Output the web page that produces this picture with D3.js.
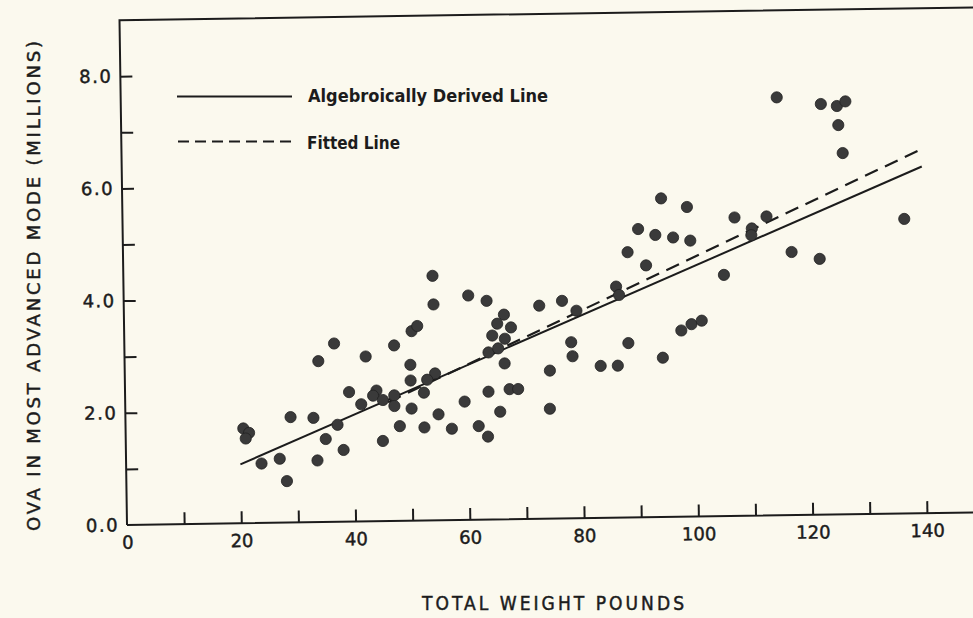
<!DOCTYPE html>
<html>
<head>
<meta charset="utf-8">
<script src="https://cdn.jsdelivr.net/npm/d3@7"></script>
<style>
  html, body { margin: 0; padding: 0; background: #fbf9ee; }
  svg { display: block; }
</style>
</head>
<body>
<div id="chart"></div>
<script>
// total weight (pounds) of each point
const weight = [
  54.1, 54.2, 50.3, 51.3, 36.7, 47.2, 33.9, 42.2, 50.0, 50.0, 54.3, 52.9, 39.2,
  44.0, 43.4, 45.1, 47.1, 52.3, 41.3, 47.1, 50.1, 54.8, 28.9, 32.9, 37.1, 20.6,
  21.6, 21.0, 48.0, 52.3, 57.1, 35.0, 45.0, 38.1, 23.7, 26.9, 33.5, 28.1,
  88.3, 91.5, 60.3, 63.5, 72.7, 76.7, 66.5, 65.3, 67.7, 64.4, 66.6, 79.2, 86.2,
  86.7, 63.7, 65.4, 66.5, 78.2, 78.4, 88.2, 97.5, 99.3, 101.1, 83.3, 86.3, 94.2,
  74.4, 63.6, 67.3, 68.8, 59.4, 65.6, 74.3, 61.8, 63.4,
  114.8, 122.5, 125.3, 126.8, 125.5, 126.2, 98.8, 99.3, 107.1, 112.7, 110.1,
  110.0, 136.8, 117.0, 121.9, 105.1, 94.3, 90.2, 93.2, 96.3
];
// ova in most advanced mode (millions)
const ova = [
  4.36, 3.85, 3.38, 3.47, 3.18, 3.13, 2.87, 2.94, 2.78, 2.50, 2.62, 2.51, 2.31,
  2.33, 2.24, 2.16, 2.24, 2.28, 2.09, 2.05, 2.00, 1.89, 1.88, 1.86, 1.73, 1.69,
  1.61, 1.51, 1.69, 1.66, 1.63, 1.48, 1.43, 1.28, 1.06, 1.14, 1.10, 0.74,
  4.73, 4.49, 4.00, 3.90, 3.80, 3.88, 3.65, 3.49, 3.42, 3.28, 3.22, 3.70, 4.12,
  3.97, 2.98, 3.05, 2.78, 3.14, 2.89, 3.11, 3.32, 3.43, 3.49, 2.71, 2.71, 2.84,
  2.64, 2.28, 2.32, 2.32, 2.11, 1.92, 1.96, 1.67, 1.48,
  7.45, 7.32, 7.28, 7.36, 6.94, 6.44, 5.52, 4.92, 5.32, 5.33, 5.12,
  5.00, 5.25, 4.69, 4.56, 4.30, 5.68, 5.14, 5.03, 4.98
];

const algebraicX = [20, 140];
const algebraicY = [1.05, 6.18];
const fittedX = [46, 140];
const fittedY = [2.12, 6.49];

const xTicks = d3.range(10, 150, 10);
const xTickLabels = [0, 20, 40, 60, 80, 100, 120, 140];
const yTicks = [1, 2, 3, 4, 5, 6, 7, 8];
const yTickLabels = [0, 2, 4, 6, 8];

const width = 973;
const height = 618;
const ink = "#1c1c1c";

const x = d3.scaleLinear().domain([0, 140]).range([127, 927]);
const y = d3.scaleLinear().domain([0, 9]).range([525, 20.1]);

const svg = d3.select("#chart")
    .append("svg")
    .attr("width", width)
    .attr("height", height);

svg.append("rect")
    .attr("width", width)
    .attr("height", height)
    .attr("fill", "#fbf9ee");

// the scanned figure sits slightly askew
const plot = svg.append("g")
    .attr("transform", "rotate(-0.85,127,525)");

// frame: left axis, top line, bottom axis
plot.append("path")
    .attr("d", `M${x(0)},${y(0)}V${y(9)}H${x(155)}M${x(0)},${y(0)}H${x(155)}`)
    .attr("fill", "none")
    .attr("stroke", ink)
    .attr("stroke-width", 2);

// scanned type is heavier than a plain screen font, so give it a thin outline
function inkText(sel) {
    sel.attr("fill", ink)
        .attr("stroke", ink)
        .attr("stroke-width", 0.45);
}

function styleAxis(g, spacing) {
    g.select(".domain").remove();
    g.selectAll("line").attr("stroke", ink).attr("stroke-width", 2);
    g.selectAll("text")
        .call(inkText)
        .style("font-family", "'DejaVu Sans', sans-serif")
        .style("font-size", "18px")
        .style("letter-spacing", spacing || "0px");
}

plot.append("g")
    .attr("transform", `translate(0,${y(0)})`)
    .call(d3.axisBottom(x).tickValues(xTicks).tickSize(-12).tickFormat(""))
    .call(styleAxis);

plot.append("g")
    .attr("transform", `translate(0,${y(0)})`)
    .call(d3.axisBottom(x).tickValues(xTickLabels).tickSize(0).tickPadding(11))
    .call(styleAxis);

plot.append("g")
    .attr("transform", `translate(${x(0)},0)`)
    .call(d3.axisLeft(y).tickValues(yTicks).tickSize(-12).tickFormat(""))
    .call(styleAxis);

plot.append("g")
    .attr("transform", `translate(${x(0)},0)`)
    .call(d3.axisLeft(y).tickValues(yTickLabels).tickSize(0).tickPadding(8).tickFormat(d3.format(".1f")))
    .call(styleAxis, "1.5px");

const line = d3.line().x(d => x(d[0])).y(d => y(d[1]));

plot.append("path")
    .attr("d", line(d3.zip(algebraicX, algebraicY)))
    .attr("fill", "none")
    .attr("stroke", ink)
    .attr("stroke-width", 2);

plot.append("path")
    .attr("d", line(d3.zip(fittedX, fittedY)))
    .attr("fill", "none")
    .attr("stroke", ink)
    .attr("stroke-width", 2.2)
    .attr("stroke-dasharray", "14,8");

plot.append("g")
    .selectAll("circle")
    .data(d3.range(weight.length))
    .join("circle")
    .attr("cx", i => x(weight[i]))
    .attr("cy", i => y(ova[i]))
    .attr("r", 5.6)
    .attr("fill", "#3a3a3a")
    .attr("stroke", "#222")
    .attr("stroke-width", 0.8);

// legend
svg.append("line")
    .attr("x1", 177).attr("x2", 292)
    .attr("y1", 96.5).attr("y2", 96.5)
    .attr("stroke", ink).attr("stroke-width", 2);

svg.append("line")
    .attr("x1", 178).attr("x2", 293)
    .attr("y1", 141.5).attr("y2", 141.5)
    .attr("stroke", ink).attr("stroke-width", 2)
    .attr("stroke-dasharray", "11,6");

svg.append("text")
    .attr("x", 308).attr("y", 101.5)
    .attr("textLength", 240)
    .attr("lengthAdjust", "spacingAndGlyphs")
    .style("font-family", "'DejaVu Sans', sans-serif")
    .style("font-weight", "bold")
    .style("font-size", "17px")
    .attr("fill", ink)
    .text("Algebroically Derived Line");

svg.append("text")
    .attr("x", 307).attr("y", 148.5)
    .attr("textLength", 93)
    .attr("lengthAdjust", "spacingAndGlyphs")
    .style("font-family", "'DejaVu Sans', sans-serif")
    .style("font-weight", "bold")
    .style("font-size", "17px")
    .attr("fill", ink)
    .text("Fitted Line");

// axis titles
svg.append("text")
    .attr("transform", "translate(40,531) rotate(-90)")
    .attr("textLength", 490)
    .attr("lengthAdjust", "spacing")
    .style("font-family", "'DejaVu Sans', sans-serif")
    .style("font-size", "18px")
    .call(inkText)
    .text("OVA IN MOST ADVANCED MODE (MILLIONS)");

svg.append("text")
    .attr("x", 422).attr("y", 610)
    .attr("textLength", 262)
    .attr("lengthAdjust", "spacing")
    .style("font-family", "'Liberation Sans Narrow', 'DejaVu Sans Condensed', 'DejaVu Sans', sans-serif")
    .style("font-stretch", "condensed")
    .style("font-size", "19px")
    .call(inkText)
    .text("TOTAL WEIGHT POUNDS");
</script>
</body>
</html>
